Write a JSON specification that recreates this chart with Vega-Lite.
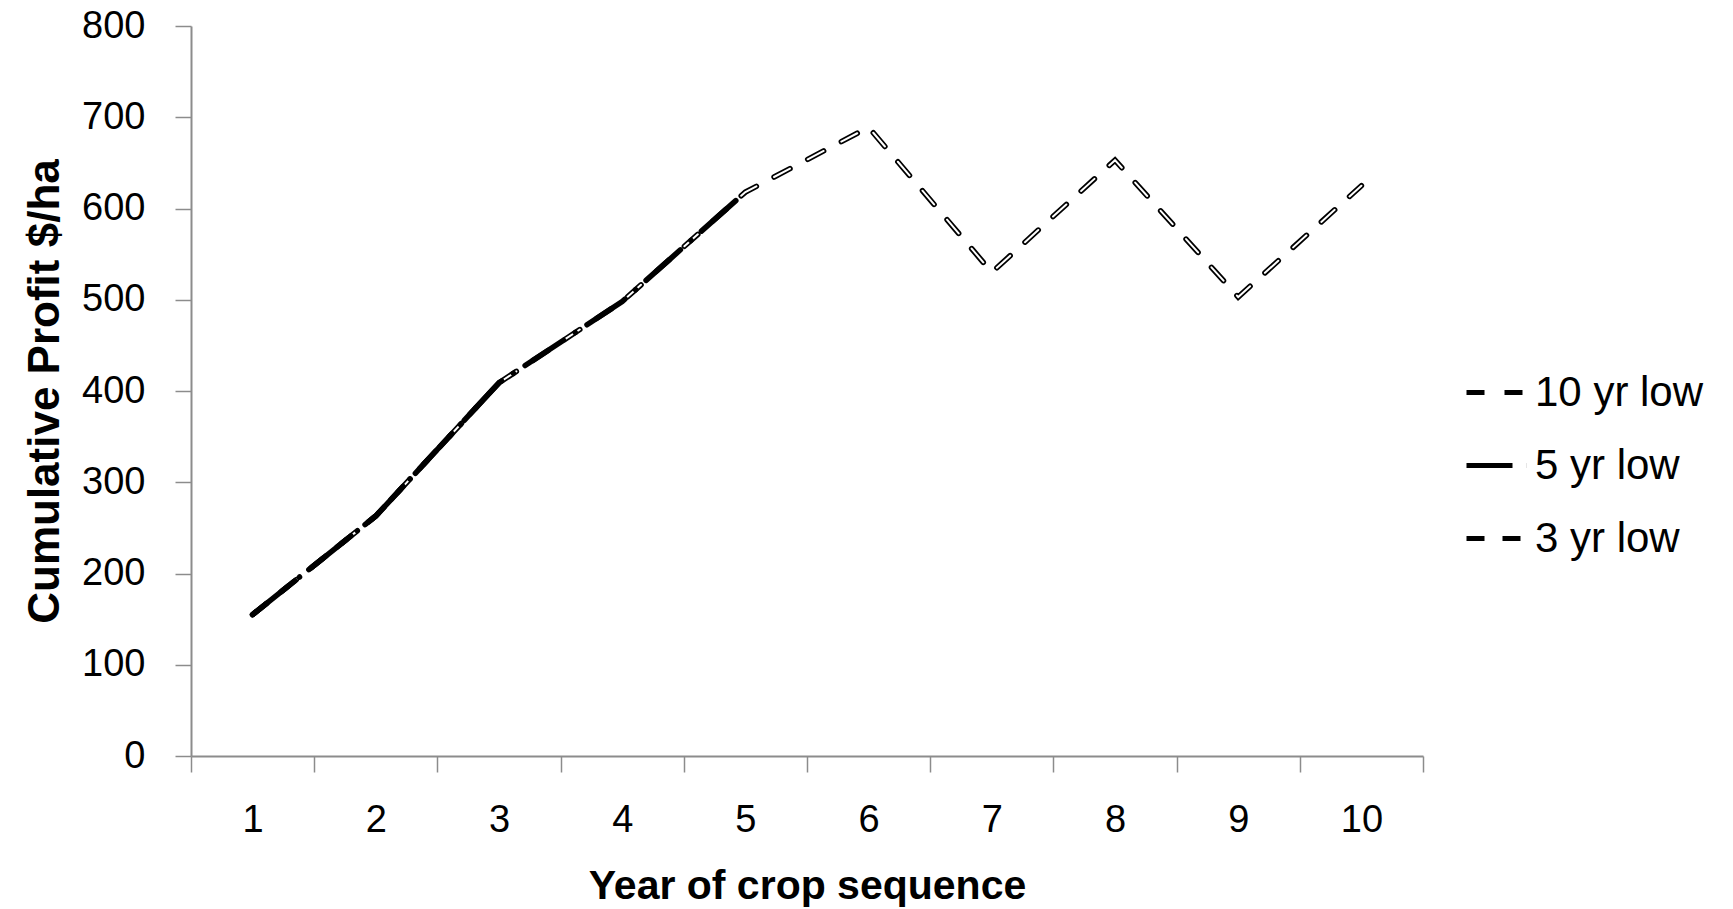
{
  "$schema": "https://vega.github.io/schema/vega-lite/v6.json",
  "width": 1232,
  "height": 730,
  "autosize": {"type": "none"},
  "padding": {"left": 191, "top": 26, "right": 310, "bottom": 153},
  "background": "white",
  "config": {
    "view": {"stroke": null},
    "font": "Liberation Sans"
  },
  "data": {
    "values": [
      {"series": "10 yr low", "year": 1, "profit": 155},
      {"series": "10 yr low", "year": 2, "profit": 263},
      {"series": "10 yr low", "year": 3, "profit": 409},
      {"series": "10 yr low", "year": 4, "profit": 498},
      {"series": "10 yr low", "year": 5, "profit": 618},
      {"series": "10 yr low", "year": 6, "profit": 689},
      {"series": "10 yr low", "year": 7, "profit": 530},
      {"series": "10 yr low", "year": 8, "profit": 653},
      {"series": "10 yr low", "year": 9, "profit": 503},
      {"series": "10 yr low", "year": 10, "profit": 625},
      {"series": "5 yr low", "year": 1, "profit": 155},
      {"series": "5 yr low", "year": 2, "profit": 263},
      {"series": "5 yr low", "year": 3, "profit": 409},
      {"series": "5 yr low", "year": 4, "profit": 498},
      {"series": "5 yr low", "year": 5, "profit": 618},
      {"series": "3 yr low", "year": 1, "profit": 155},
      {"series": "3 yr low", "year": 2, "profit": 263},
      {"series": "3 yr low", "year": 3, "profit": 409}
    ]
  },
  "encoding": {
    "x": {
      "field": "year",
      "type": "quantitative",
      "scale": {"domain": [0.5, 10.5], "nice": false, "zero": false},
      "axis": {
        "title": "Year of crop sequence",
        "values": [0.5, 1.5, 2.5, 3.5, 4.5, 5.5, 6.5, 7.5, 8.5, 9.5, 10.5],
        "labelExpr": "datum.value < 10 ? format(datum.value + 0.5, 'd') : ''",
        "labelOffset": 61.6,
        "grid": false,
        "domainColor": "#8c8c8c",
        "domainWidth": 2,
        "tickColor": "#8c8c8c",
        "tickWidth": 1.5,
        "tickSize": 16,
        "labelFontSize": 38,
        "labelColor": "black",
        "labelPadding": 29,
        "labelFlush": false,
        "labelOverlap": false,
        "titleFontSize": 41,
        "titleFontWeight": "bold",
        "titleColor": "black",
        "titlePadding": 27
      }
    },
    "y": {
      "field": "profit",
      "type": "quantitative",
      "scale": {"domain": [0, 800], "nice": false},
      "axis": {
        "title": "Cumulative Profit $/ha",
        "values": [0, 100, 200, 300, 400, 500, 600, 700, 800],
        "grid": false,
        "domainColor": "#8c8c8c",
        "domainWidth": 2,
        "tickColor": "#8c8c8c",
        "tickWidth": 1.5,
        "tickSize": 16,
        "labelFontSize": 38,
        "labelColor": "black",
        "labelPadding": 30,
        "labelFlush": false,
        "titleFontSize": 44,
        "titleFontWeight": "bold",
        "titleColor": "black",
        "titlePadding": 14
      }
    }
  },
  "layer": [
    {
      "transform": [{"filter": "datum.series === '10 yr low'"}],
      "mark": {"type": "line", "color": "black", "strokeWidth": 5.5, "strokeCap": "round"},
      "encoding": {
        "strokeDash": {
          "field": "series",
          "type": "nominal",
          "scale": {
            "domain": ["10 yr low", "5 yr low", "3 yr low"],
            "range": [[18, 20], [46, 14, 0.1, 14], [18, 18]]
          },
          "legend": {
            "title": null,
            "orient": "none",
            "legendX": 1273,
            "legendY": 331,
            "symbolType": "stroke",
            "symbolSize": 4356,
            "symbolStrokeWidth": 5,
            "symbolStrokeColor": "black",
            "labelFontSize": 42,
            "labelColor": "black",
            "labelOffset": 0,
            "labelLimit": 400,
            "rowPadding": 16
          }
        }
      }
    },
    {
      "transform": [{"filter": "datum.series === '10 yr low'"}],
      "mark": {"type": "line", "color": "white", "strokeWidth": 2, "strokeCap": "round", "strokeDash": [18, 20]},
      "encoding": {}
    },
    {
      "transform": [{"filter": "datum.series === '5 yr low'"}],
      "mark": {"type": "line", "color": "black", "strokeWidth": 5.5, "strokeCap": "round"},
      "encoding": {
        "strokeDash": {"field": "series", "type": "nominal"}
      }
    },
    {
      "transform": [{"filter": "datum.series === '3 yr low'"}],
      "mark": {"type": "line", "color": "black", "strokeWidth": 5.5, "strokeCap": "round"},
      "encoding": {
        "strokeDash": {"field": "series", "type": "nominal"}
      }
    }
  ]
}
